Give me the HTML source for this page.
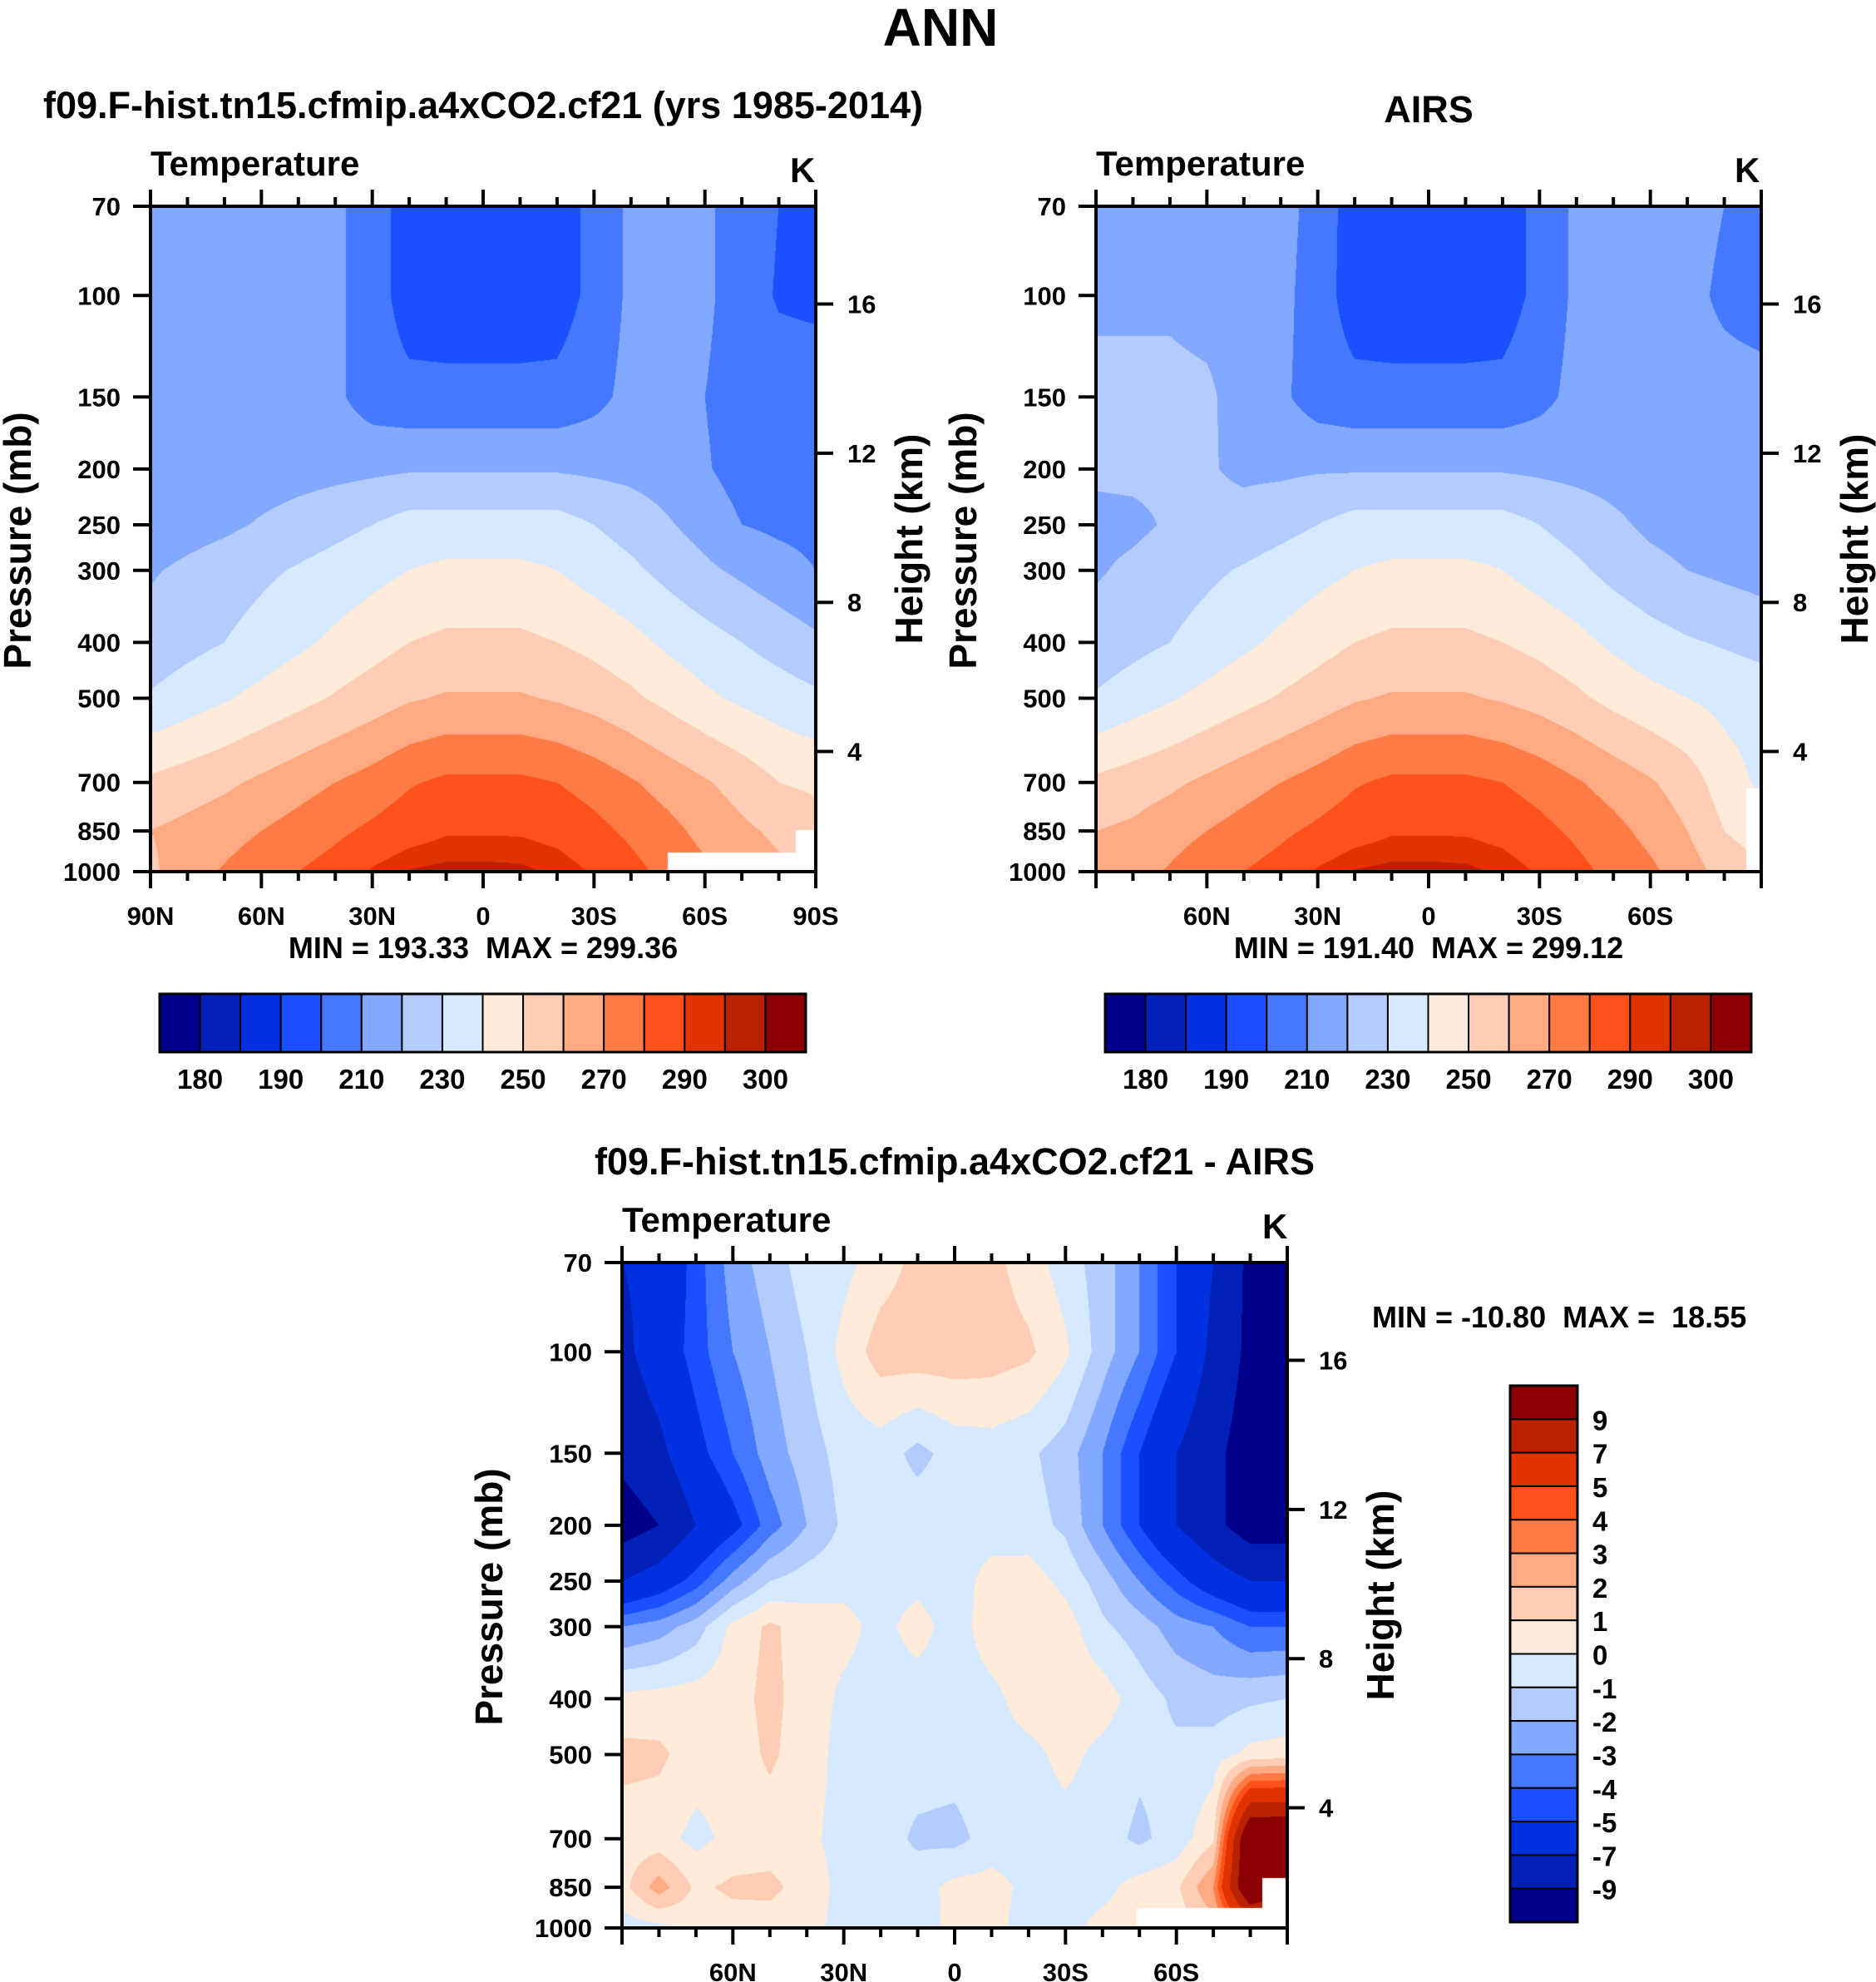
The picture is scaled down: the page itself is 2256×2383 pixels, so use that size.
<!DOCTYPE html>
<html><head><meta charset="utf-8">
<style>
body{margin:0;background:#fff;}
#root{position:relative;width:2256px;height:2383px;background:#fff;overflow:hidden;font-family:"Liberation Sans",Arial,sans-serif;font-weight:bold;color:#000;}
.t{position:absolute;white-space:nowrap;}
canvas{position:absolute;}
svg{position:absolute;left:0;top:0;}
</style></head>
<body>
<div id="root">
<div class="t" style="left:0;width:2262px;text-align:center;top:-4px;font-size:64px;">ANN</div>
<div class="t" style="left:0;width:1162px;text-align:center;top:101px;font-size:45px;">f09.F-hist.tn15.cfmip.a4xCO2.cf21 (yrs 1985-2014)</div>
<div class="t" style="left:1618px;width:200px;text-align:center;top:106px;font-size:45px;">AIRS</div>
<div class="t" style="left:548px;width:1200px;text-align:center;top:1371px;font-size:45px;">f09.F-hist.tn15.cfmip.a4xCO2.cf21 - AIRS</div>

<div class="t" style="left:181px;top:173px;font-size:42px;">Temperature</div>
<div class="t" style="left:950px;top:181px;font-size:42px;">K</div>
<div class="t" style="left:1318px;top:173px;font-size:42px;">Temperature</div>
<div class="t" style="left:2086px;top:181px;font-size:42px;">K</div>
<div class="t" style="left:748px;top:1443px;font-size:42px;">Temperature</div>
<div class="t" style="left:1518px;top:1451px;font-size:42px;">K</div>

<div class="t" style="left:181px;width:800px;text-align:center;top:1119px;font-size:36px;">MIN = 193.33&nbsp;&nbsp;MAX = 299.36</div>
<div class="t" style="left:1318px;width:800px;text-align:center;top:1119px;font-size:36px;">MIN = 191.40&nbsp;&nbsp;MAX = 299.12</div>
<div class="t" style="left:1650px;top:1563px;font-size:36px;">MIN = -10.80&nbsp;&nbsp;MAX =&nbsp; 18.55</div>

<canvas id="c1" width="800" height="800" style="left:181px;top:248px"></canvas>
<canvas id="c2" width="800" height="800" style="left:1318px;top:248px"></canvas>
<canvas id="c3" width="800" height="800" style="left:748px;top:1518px"></canvas>
<svg id="ov" width="2256" height="2383"></svg>
</div>
<script>
// ---- data ----
const lats = [90,80,70,60,50,40,30,20,10,0,-10,-20,-30,-40,-50,-60,-70,-80,-90];
const plevs = [70,100,150,200,250,300,400,500,700,850,1000];
const tempLevels = [180,185,190,200,210,220,230,240,250,260,270,280,290,295,300];
const diffLevels = [-9,-7,-5,-4,-3,-2,-1,0,1,2,3,4,5,7,9];
const tempLabels = ["180","190","210","230","250","270","290","300"];
const diffLabels = ["9","7","5","4","3","2","1","0","-1","-2","-3","-4","-5","-7","-9"];
const pTicks = [70,100,150,200,250,300,400,500,700,850,1000];
const zTicks = [4,8,12,16];
const latTicks = [90,60,30,0,-30,-60,-90];
const latTickLabels = ["90N","60N","30N","0","30S","60S","90S"];
const modelT = [
 [215,215,215,215,215,212,205,195,195,195,195,195,203,212,215,212,205,200,196],
 [215,215,215,215,215,212,205,195,194,194,194,195,203,212,215,212,205,199,198],
 [214,214,214,214,214,212,205,203,203,203,203,203,207,213,215,210,205,205,205],
 [215,215,215,215,216,217,218,219,219,219,219,219,218,217,215,211,206,206,206],
 [214,216,218,221,224,227,230,234,234,234,234,234,230,226,221,216,210,208,207],
 [219,222,225,228,231,234,237,240,242,242,242,240,236,232,227,222,218,214,210],
 [224,227,230,234,238,242,246,250,252,252,252,250,247,243,238,234,230,226,222],
 [231,235,239,243,247,251,255,259,261,261,261,259,256,252,247,242,238,235,232],
 [252,255,258,262,266,270,274,279,282,282,282,280,276,271,266,261,256,250,248],
 [260,263,266,270,274,278,282,286,289,289,289,287,283,278,273,267,262,258,255],
 [258,266,271,276,280,284,291,295.5,297,297,296.5,294,289,283,277,272,266,262,260]
];
const airsT = [
 [215,215,215,215,215,214,206,195,195,195,195,195,203,212,215,215,214,210,203],
 [218,218,218,216,215,213,205,195,194,194,194,195,203,212,215,215,213,208,205],
 [223,223,223,222,215,212,205,203,203,203,203,203,207,213,215,214,214,214,214],
 [222,222,222,221,218,218,219,219,219,219,219,219,218,217,216,215,215,215,215],
 [217,218,221,223,224,227,230,234,234,234,234,234,230,226,222,218,216,215,215],
 [219,222,225,228,231,234,237,240,242,242,242,240,236,232,227,223,220,218,216],
 [224,227,230,234,238,242,246,250,252,252,252,250,247,243,238,234,231,229,227],
 [231,235,239,243,247,251,255,259,261,261,261,259,256,252,247,243,240,237,235],
 [252,255,258,262,266,270,274,279,282,282,282,280,276,271,266,261,255,245,238],
 [260,262,266,270,274,278,282,286,289,289,289,287,283,278,273,267,260,250,245],
 [262,266,271,276,280,284,291,295.5,297,297,296.5,294,289,283,277,272,265,256,252]
];
const diffT = [
 [-7,-6.5,-4.5,-2.5,-1.5,-0.5,-0.3,0.5,1.3,1.5,1.3,0.5,-0.5,-1.5,-3,-5,-7,-9.5,-10],
 [-7.5,-6,-4.5,-3,-2,-1,0.3,1.5,1.6,1.6,1.5,1.2,0.2,-1.5,-3,-5,-7.5,-9.5,-10],
 [-8.5,-7.5,-5.5,-4,-2.5,-1.5,-0.6,-0.5,-1.3,-0.6,-0.5,-0.8,-1.5,-3,-5,-7,-8.5,-10,-10],
 [-10,-9,-7,-5.5,-3.5,-2,-0.8,-0.5,-0.4,-0.4,-0.5,-0.6,-1.2,-3,-5,-7,-8.5,-10,-10],
 [-7,-6,-4.5,-2.5,-1,-0.5,-0.3,-0.4,-0.3,-0.5,0.4,0.5,-0.3,-1.5,-3,-4.5,-6,-7,-7],
 [-3,-2.5,-1.5,0.3,1.2,0.5,0.3,-0.3,0.4,-0.5,0.6,0.8,0.5,-0.8,-1.5,-2.5,-3,-4,-4],
 [0.3,0.4,0.5,0.6,1.3,0.5,-0.2,-0.4,-0.5,-0.5,-0.3,0.5,0.7,0.5,-0.5,-1.2,-1.5,-1.2,-1],
 [1.3,1.2,0.5,0.4,1.2,0.4,-0.3,-0.5,-0.5,-0.6,-0.4,-0.3,0.3,-0.3,-0.8,-0.8,-0.5,0.3,0.5],
 [0.5,0.4,-0.3,0.3,0.4,0.2,-0.3,-0.5,-1.2,-1.3,-0.6,-0.5,-0.4,-0.6,-1.2,-0.6,0.8,12,12],
 [0.6,2.5,0.8,1.2,1.3,0.5,-0.3,-0.5,-0.4,0.3,0.4,-0.3,-0.4,-0.3,0.4,0.8,3,12,11],
 [-0.5,-0.3,0.3,0.5,0.4,0.3,-0.3,-0.4,-0.5,0.3,0.3,-0.4,-0.3,0.3,0.5,0.3,1.5,5,2]
];
// ---- style ----
const colors = ["#00008b","#0020b8","#0030e0","#1a50ff","#4478ff","#82a8ff","#b4ccfd","#d7e9ff","#ffebd9","#fecdb4","#ffaa82","#ff7b46","#ff5119","#e03300","#b82200","#8b0000"];
const W = 800, H = 800;
const lp0 = Math.log(70), lp1 = Math.log(1000);
function yOfP(p){ return (Math.log(p)-lp0)/(lp1-lp0)*H; }
function xOfLat(l){ return (90-l)/180*W; }
function pOfZ(z){ return 1123*Math.exp(-z/6.71); }
function rgb(h){ return [parseInt(h.substr(1,2),16),parseInt(h.substr(3,2),16),parseInt(h.substr(5,2),16)]; }
const rgbs = colors.map(rgb);
const logP = plevs.map(p=>Math.log(p));

function sample(grid, fx, lp){
  let k=0; while(k<plevs.length-2 && lp>logP[k+1]) k++;
  let ty=(lp-logP[k])/(logP[k+1]-logP[k]); ty=Math.max(0,Math.min(1,ty));
  const n=lats.length-1; let xi=fx*n; let i=Math.min(n-1,Math.floor(xi)); let tx=xi-i;
  const a=grid[k][i],b=grid[k][i+1],c=grid[k+1][i],d=grid[k+1][i+1];
  return (a*(1-tx)+b*tx)*(1-ty)+(c*(1-tx)+d*tx)*ty;
}
function classify(v,levels){ let k=0; while(k<levels.length && v>=levels[k]) k++; return k; }

function drawField(id, grid, levels, masks){
  const cv=document.getElementById(id), ctx=cv.getContext('2d');
  const img=ctx.createImageData(W,H);
  for(let y=0;y<H;y++){
    const lp=lp0+(y+0.5)/H*(lp1-lp0);
    for(let x=0;x<W;x++){
      const v=sample(grid,(x+0.5)/W,lp);
      const c=rgbs[classify(v,levels)];
      const o=(y*W+x)*4; img.data[o]=c[0];img.data[o+1]=c[1];img.data[o+2]=c[2];img.data[o+3]=255;
    }
  }
  ctx.putImageData(img,0,0);
  ctx.fillStyle="#fff";
  masks.forEach(m=>ctx.fillRect(m[0],m[1],m[2],m[3]));
}
drawField('c1',modelT,tempLevels,[[622,777,160,23],[776,750,24,50]]);
drawField('c2',airsT,tempLevels,[[782,700,18,100]]);
drawField('c3',diffT,diffLevels,[[619,776,160,24],[770,740,30,60]]);

// ---- axes ----
const NS="http://www.w3.org/2000/svg";
const ov=document.getElementById('ov');
function el(tag,attrs,parent){ const e=document.createElementNS(NS,tag); for(const k in attrs) e.setAttribute(k,attrs[k]); (parent||ov).appendChild(e); return e; }
function txt(x,y,s,size,anchor,parent){ const e=el('text',{x:x,y:y,'font-size':size,'text-anchor':anchor||'middle','font-family':'"Liberation Sans",Arial,sans-serif','font-weight':'bold',fill:'#000'},parent); e.textContent=s; return e; }

function drawAxes(name,L,T,showEndLabels){
  const g=el('g',{});
  
  
  el('rect',{x:L,y:T,width:W,height:H,fill:'none',stroke:'#000','stroke-width':4},g);
  for(let lat=90;lat>=-90;lat-=10){
    const x=L+xOfLat(lat); const major=(lat%30===0); const len=major?20:11;
    el('line',{x1:x,y1:T,x2:x,y2:T-len,stroke:'#000','stroke-width':4},g);
    el('line',{x1:x,y1:T+H,x2:x,y2:T+H+len,stroke:'#000','stroke-width':4},g);
  }
  latTicks.forEach((lat,i)=>{
    if(!showEndLabels && Math.abs(lat)===90) return;
    const t=txt(L+xOfLat(lat),T+H+64,latTickLabels[i],31,'middle',g);
    
    
  });
  pTicks.forEach(p=>{
    const y=T+yOfP(p);
    el('line',{x1:L,y1:y,x2:L-21,y2:y,stroke:'#000','stroke-width':4},g);
    const t=txt(L-36,y+11,String(p),31,'end',g);
    
    
  });
  zTicks.forEach(z=>{
    const y=T+yOfP(pOfZ(z));
    el('line',{x1:L+W,y1:y,x2:L+W+21,y2:y,stroke:'#000','stroke-width':4},g);
    const t=txt(L+W+38,y+11,String(z),31,'start',g);
    
    
  });
  const yt=txt(0,0,'Pressure (mb)',46,'middle',g);
  yt.setAttribute('transform','translate('+(L-144)+','+(T+H/2+2)+') rotate(-90)');
  
  
  const ht=txt(0,0,'Height (km)',46,'middle',g);
  ht.setAttribute('transform','translate('+(L+W+128)+','+(T+H/2)+') rotate(-90)');
  
  
}
drawAxes('model',181,248,true);
drawAxes('airs',1318,248,false);
drawAxes('diff',748,1518,false);

function hbar(name,L,T,w,h){
  const g=el('g',{});
  
  
  const bw=w/colors.length;
  colors.forEach((c,i)=>{
    const r=el('rect',{x:L+i*bw,y:T,width:bw,height:h,fill:c,stroke:'#000','stroke-width':2},g);
    
    
  });
  el('rect',{x:L,y:T,width:w,height:h,fill:'none',stroke:'#000','stroke-width':3},g);
  tempLabels.forEach((s,j)=>{
    const t=txt(L+(2*j+1)*bw,T+h+44,s,33,'middle',g);
    
    
  });
}
hbar('model-colorbar',192,1195,777,70);
hbar('airs-colorbar',1329,1195,777,70);

(function(){
  const L=1816,T=1666,w=81,h=645;
  const g=el('g',{});
  
  
  const bh=h/colors.length;
  colors.slice().reverse().forEach((c,i)=>{
    const r=el('rect',{x:L,y:T+i*bh,width:w,height:bh,fill:c,stroke:'#000','stroke-width':2},g);
    
    
  });
  el('rect',{x:L,y:T,width:w,height:h,fill:'none',stroke:'#000','stroke-width':3},g);
  diffLabels.forEach((s,j)=>{
    const t=txt(L+w+18,T+(j+1)*bh+13,s,33,'start',g);
    
    
  });
})();
</script>
</body></html>
